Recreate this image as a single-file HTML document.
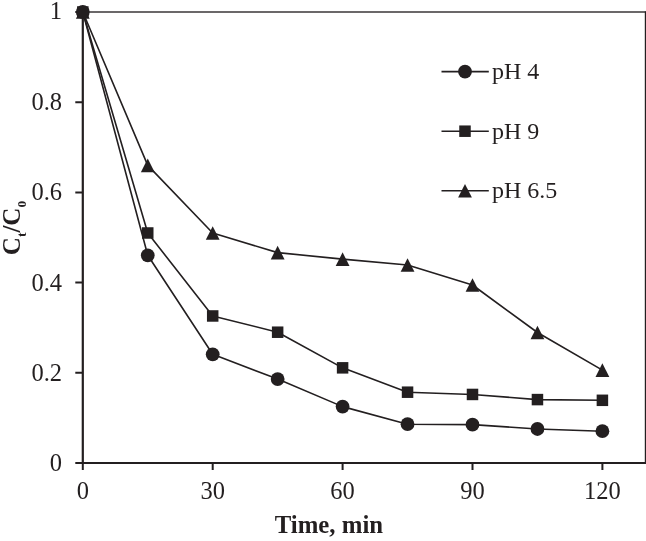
<!DOCTYPE html>
<html><head><meta charset="utf-8"><style>
html,body{margin:0;padding:0;background:#fff;}
body{width:646px;height:541px;overflow:hidden;}
svg{display:block;will-change:transform;}
text{font-family:"Liberation Serif",serif;fill:#231f20;}
</style></head><body>
<svg width="646" height="541" viewBox="0 0 646 541">

<path d="M82.8 12H645.7" fill="none" stroke="#3a3637" stroke-width="1.7"/>
<path d="M645.7 11.2V463" fill="none" stroke="#231f20" stroke-width="1.8"/>
<path d="M82.80 12.00L147.75 165.34L212.70 232.99L277.65 252.61L342.60 259.15L407.55 265.01L472.50 284.99L537.45 332.48L602.40 370.09" fill="none" stroke="#231f20" stroke-width="1.6" stroke-linejoin="round"/>
<path d="M82.80 12.00L147.75 232.99L212.70 315.97L277.65 332.21L342.60 367.84L407.55 392.19L472.50 394.45L537.45 399.59L602.40 400.31" fill="none" stroke="#231f20" stroke-width="1.6" stroke-linejoin="round"/>
<path d="M82.80 12.00L147.75 255.31L212.70 354.31L277.65 379.11L342.60 406.62L407.55 424.21L472.50 424.67L537.45 428.99L602.40 431.20" fill="none" stroke="#231f20" stroke-width="1.6" stroke-linejoin="round"/>
<path d="M82.8 12V463M82 463.0H646" fill="none" stroke="#231f20" stroke-width="2.2"/>
<path d="M75.3 463.00H82.8M75.3 372.80H82.8M75.3 282.60H82.8M75.3 192.40H82.8M75.3 102.20H82.8M75.3 12.00H82.8M82.80 463.0V470M212.70 463.0V470M342.60 463.0V470M472.50 463.0V470M602.40 463.0V470" fill="none" stroke="#231f20" stroke-width="2"/>
<g fill="#231f20">
<path d="M82.80 5.20L89.70 18.80L75.90 18.80Z"/>
<path d="M147.75 158.54L154.65 172.14L140.85 172.14Z"/>
<path d="M212.70 226.19L219.60 239.79L205.80 239.79Z"/>
<path d="M277.65 245.81L284.55 259.41L270.75 259.41Z"/>
<path d="M342.60 252.35L349.50 265.95L335.70 265.95Z"/>
<path d="M407.55 258.21L414.45 271.81L400.65 271.81Z"/>
<path d="M472.50 278.19L479.40 291.79L465.60 291.79Z"/>
<path d="M537.45 325.68L544.35 339.28L530.55 339.28Z"/>
<path d="M602.40 363.29L609.30 376.89L595.50 376.89Z"/>
<rect x="77.05" y="6.25" width="11.5" height="11.5"/>
<rect x="142.00" y="227.24" width="11.5" height="11.5"/>
<rect x="206.95" y="310.22" width="11.5" height="11.5"/>
<rect x="271.90" y="326.46" width="11.5" height="11.5"/>
<rect x="336.85" y="362.09" width="11.5" height="11.5"/>
<rect x="401.80" y="386.44" width="11.5" height="11.5"/>
<rect x="466.75" y="388.70" width="11.5" height="11.5"/>
<rect x="531.70" y="393.84" width="11.5" height="11.5"/>
<rect x="596.65" y="394.56" width="11.5" height="11.5"/>
<circle cx="82.80" cy="12.00" r="6.9"/>
<circle cx="147.75" cy="255.31" r="6.9"/>
<circle cx="212.70" cy="354.31" r="6.9"/>
<circle cx="277.65" cy="379.11" r="6.9"/>
<circle cx="342.60" cy="406.62" r="6.9"/>
<circle cx="407.55" cy="424.21" r="6.9"/>
<circle cx="472.50" cy="424.67" r="6.9"/>
<circle cx="537.45" cy="428.99" r="6.9"/>
<circle cx="602.40" cy="431.20" r="6.9"/>
</g>
<text x="62" y="471.00" font-size="24.5" text-anchor="end">0</text>
<text x="62" y="380.80" font-size="24.5" text-anchor="end">0.2</text>
<text x="62" y="290.60" font-size="24.5" text-anchor="end">0.4</text>
<text x="62" y="200.40" font-size="24.5" text-anchor="end">0.6</text>
<text x="62" y="110.20" font-size="24.5" text-anchor="end">0.8</text>
<text x="62" y="18.80" font-size="24.5" text-anchor="end">1</text>
<text x="82.80" y="498.5" font-size="24.5" text-anchor="middle">0</text>
<text x="212.70" y="498.5" font-size="24.5" text-anchor="middle">30</text>
<text x="342.60" y="498.5" font-size="24.5" text-anchor="middle">60</text>
<text x="472.50" y="498.5" font-size="24.5" text-anchor="middle">90</text>
<text x="602.40" y="498.5" font-size="24.5" text-anchor="middle">120</text>
<text transform="translate(328.9 533) scale(0.973 1)" font-size="25.5" font-weight="bold" text-anchor="middle">Time, min</text>
<text transform="translate(19.8 228) rotate(-90)" font-size="25" font-weight="bold" text-anchor="middle">C<tspan font-size="13.5" dy="6.5">t</tspan><tspan dy="-6.5">/C</tspan><tspan font-size="13.5" dy="6.5">0</tspan></text>
<path d="M441.5 71.6H488.8" stroke="#231f20" stroke-width="1.6"/>
<g fill="#231f20"><circle cx="465.00" cy="71.60" r="6.9"/></g>
<text x="492" y="78.90" font-size="24">pH 4</text>
<path d="M441.5 131.2H488.8" stroke="#231f20" stroke-width="1.6"/>
<g fill="#231f20"><rect x="459.25" y="125.45" width="11.5" height="11.5"/></g>
<text x="492" y="138.50" font-size="24">pH 9</text>
<path d="M441.5 190.8H488.8" stroke="#231f20" stroke-width="1.6"/>
<g fill="#231f20"><path d="M465.00 184.00L471.90 197.60L458.10 197.60Z"/></g>
<text x="492" y="198.10" font-size="24">pH 6.5</text>
</svg></body></html>
